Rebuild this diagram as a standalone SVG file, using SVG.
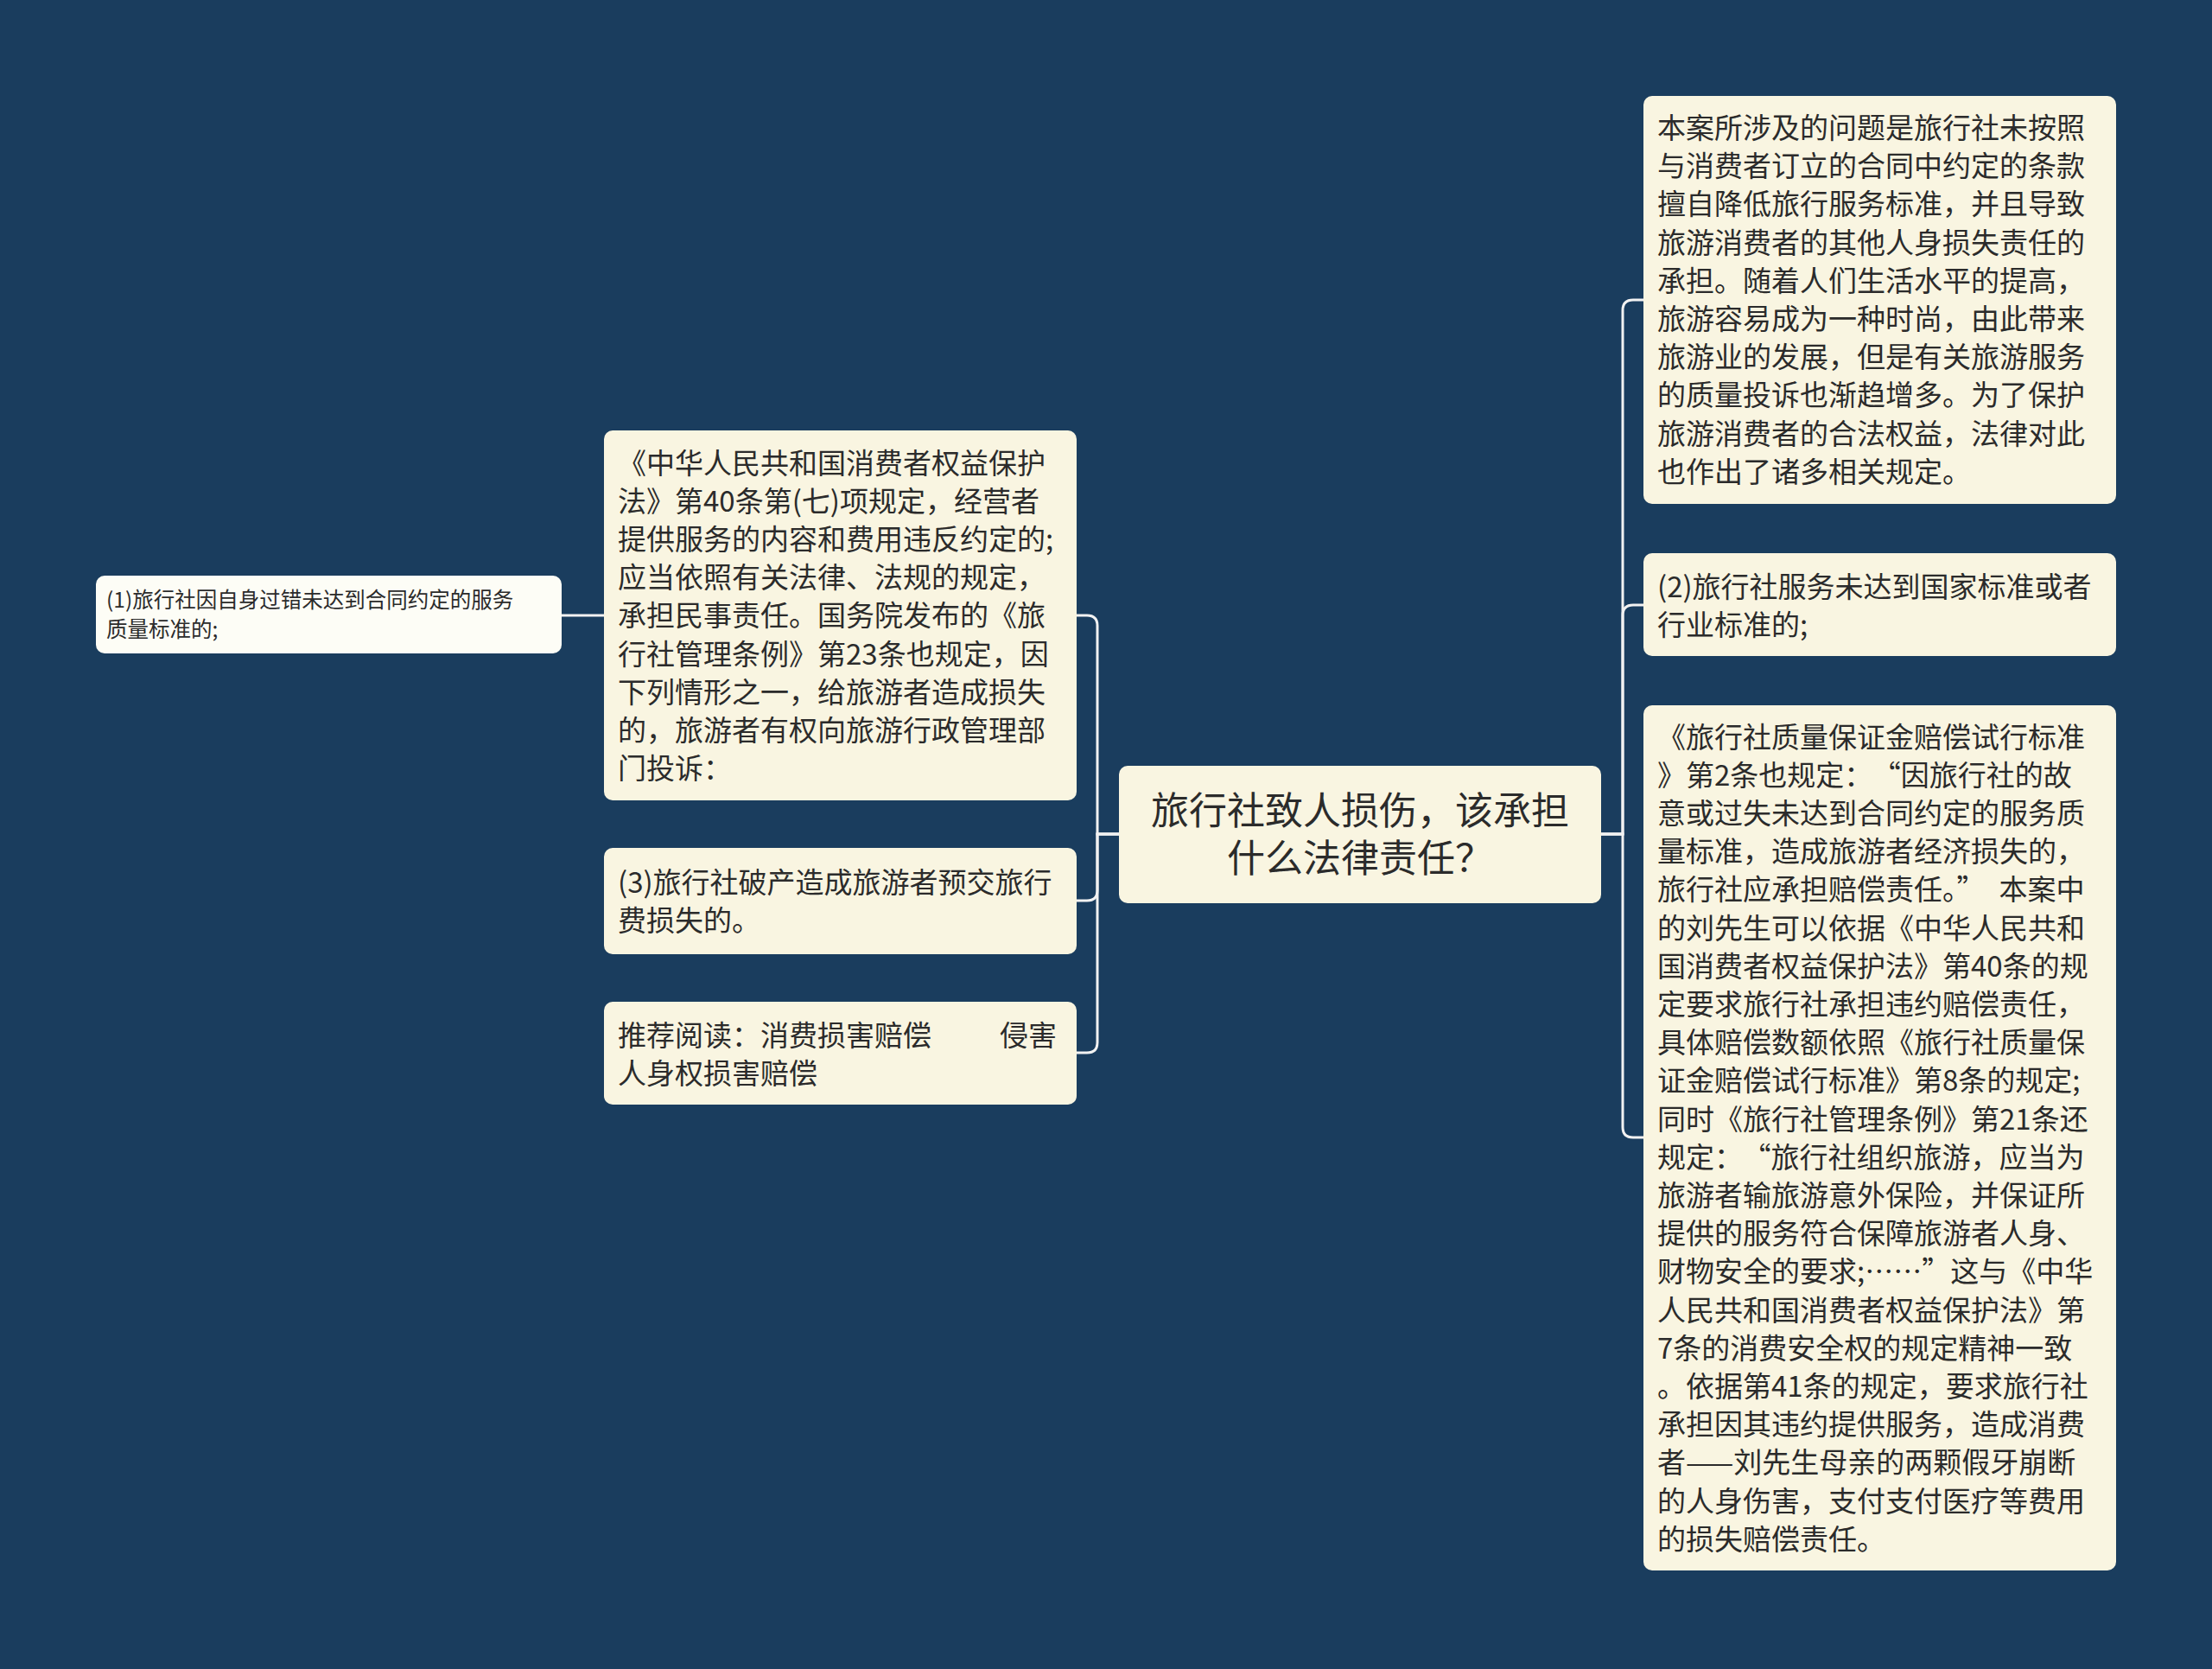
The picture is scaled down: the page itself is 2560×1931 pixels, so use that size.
<svg xmlns="http://www.w3.org/2000/svg" width="2560" height="1931" viewBox="0 0 2560 1931">
<style>
.bg{fill:#1a3d5e}
.box{fill:#f9f5e1}
.box2{fill:#fdfdf6}
.t{font-family:"Noto Sans CJK SC","Noto Sans",sans-serif;fill:#2b2b2b;font-size:33px}
.tc{font-family:"Noto Sans CJK SC","Noto Sans",sans-serif;fill:#2b2b2b;font-size:44px;text-anchor:middle}
.ts{font-family:"Noto Sans CJK SC","Noto Sans",sans-serif;fill:#2b2b2b;font-size:24.5px}
.c{fill:none;stroke:#f2f2f2;stroke-width:3}
</style>
<rect class="bg" x="0" y="0" width="2560" height="1931"/>
<g id="connectors">
<path class="c" d="M1853,965 H1878 V359 Q1878,347 1890,347 H1902"/>
<path class="c" d="M1853,965 H1878 V712 Q1878,700 1890,700 H1902"/>
<path class="c" d="M1853,965 H1878 V1304 Q1878,1316 1890,1316 H1902"/>
<path class="c" d="M1295,965 H1270 V724 Q1270,712 1258,712 H1246"/>
<path class="c" d="M1295,965 H1270 V1030 Q1270,1042 1258,1042 H1246"/>
<path class="c" d="M1295,965 H1270 V1206 Q1270,1218 1258,1218 H1246"/>
<path class="c" d="M699,712 H650"/>
</g>
<g id="central">
<rect class="box" x="1295" y="886" width="558" height="159" rx="10"/>
<text class="tc" x="1574"><tspan x="1574" y="954">旅行社致人损伤，该承担</tspan><tspan x="1574" y="1009">什么法律责任？</tspan></text>
</g>
<g id="r1">
<rect class="box" x="1902" y="111" width="547" height="472" rx="10"/>
<text class="t"><tspan x="1918" y="160">本案所涉及的问题是旅行社未按照</tspan><tspan x="1918" y="204.2">与消费者订立的合同中约定的条款</tspan><tspan x="1918" y="248.4">擅自降低旅行服务标准，并且导致</tspan><tspan x="1918" y="292.6">旅游消费者的其他人身损失责任的</tspan><tspan x="1918" y="336.8">承担。随着人们生活水平的提高，</tspan><tspan x="1918" y="381">旅游容易成为一种时尚，由此带来</tspan><tspan x="1918" y="425.2">旅游业的发展，但是有关旅游服务</tspan><tspan x="1918" y="469.4">的质量投诉也渐趋增多。为了保护</tspan><tspan x="1918" y="513.6">旅游消费者的合法权益，法律对此</tspan><tspan x="1918" y="557.8">也作出了诸多相关规定。</tspan></text>
</g>
<g id="r2">
<rect class="box" x="1902" y="640" width="547" height="119" rx="10"/>
<text class="t"><tspan x="1918" y="690.5">(2)旅行社服务未达到国家标准或者</tspan><tspan x="1918" y="734.7">行业标准的;</tspan></text>
</g>
<g id="r3">
<rect class="box" x="1902" y="816" width="547" height="1001" rx="10"/>
<text class="t"><tspan x="1918" y="864.5">《旅行社质量保证金赔偿试行标准</tspan><tspan x="1918" y="908.7">》第2条也规定：<tspan dx="16">“</tspan>因旅行社的故</tspan><tspan x="1918" y="952.9">意或过失未达到合同约定的服务质</tspan><tspan x="1918" y="997.1">量标准，造成旅游者经济损失的，</tspan><tspan x="1918" y="1041.3">旅行社应承担赔偿责任。”<tspan dx="16">本案中</tspan></tspan><tspan x="1918" y="1085.5">的刘先生可以依据《中华人民共和</tspan><tspan x="1918" y="1129.7">国消费者权益保护法》第40条的规</tspan><tspan x="1918" y="1173.9">定要求旅行社承担违约赔偿责任，</tspan><tspan x="1918" y="1218.1">具体赔偿数额依照《旅行社质量保</tspan><tspan x="1918" y="1262.3">证金赔偿试行标准》第8条的规定;</tspan><tspan x="1918" y="1306.5">同时《旅行社管理条例》第21条还</tspan><tspan x="1918" y="1350.7">规定：<tspan dx="16">“</tspan>旅行社组织旅游，应当为</tspan><tspan x="1918" y="1394.9">旅游者输旅游意外保险，并保证所</tspan><tspan x="1918" y="1439.1">提供的服务符合保障旅游者人身、</tspan><tspan x="1918" y="1483.3">财物安全的要求;……”这与《中华</tspan><tspan x="1918" y="1527.5">人民共和国消费者权益保护法》第</tspan><tspan x="1918" y="1571.7">7条的消费安全权的规定精神一致</tspan><tspan x="1918" y="1615.9">。依据第41条的规定，要求旅行社</tspan><tspan x="1918" y="1660.1">承担因其违约提供服务，造成消费</tspan><tspan x="1918" y="1704.3">者——刘先生母亲的两颗假牙崩断</tspan><tspan x="1918" y="1748.5">的人身伤害，支付支付医疗等费用</tspan><tspan x="1918" y="1792.7">的损失赔偿责任。</tspan></text>
</g>
<g id="l1">
<rect class="box" x="699" y="498" width="547" height="428" rx="10"/>
<text class="t"><tspan x="715" y="547.5">《中华人民共和国消费者权益保护</tspan><tspan x="715" y="591.7">法》第40条第(七)项规定，经营者</tspan><tspan x="715" y="635.9">提供服务的内容和费用违反约定的;</tspan><tspan x="715" y="680.1">应当依照有关法律、法规的规定，</tspan><tspan x="715" y="724.3">承担民事责任。国务院发布的《旅</tspan><tspan x="715" y="768.5">行社管理条例》第23条也规定，因</tspan><tspan x="715" y="812.7">下列情形之一，给旅游者造成损失</tspan><tspan x="715" y="856.9">的，旅游者有权向旅游行政管理部</tspan><tspan x="715" y="901.1">门投诉：</tspan></text>
</g>
<g id="l1a">
<rect class="box2" x="111" y="666" width="539" height="90" rx="10"/>
<text class="ts"><tspan x="123" y="703">(1)旅行社因自身过错未达到合同约定的服务</tspan><tspan x="123" y="737">质量标准的;</tspan></text>
</g>
<g id="l2">
<rect class="box" x="699" y="981" width="547" height="123" rx="10"/>
<text class="t"><tspan x="715" y="1032.5">(3)旅行社破产造成旅游者预交旅行</tspan><tspan x="715" y="1076.7">费损失的。</tspan></text>
</g>
<g id="l3">
<rect class="box" x="699" y="1159" width="547" height="119" rx="10"/>
<text class="t"><tspan x="715" y="1209.5">推荐阅读：消费损害赔偿</tspan><tspan x="1157" y="1209.5">侵害</tspan><tspan x="715" y="1253.7">人身权损害赔偿</tspan></text>
</g>
</svg>
